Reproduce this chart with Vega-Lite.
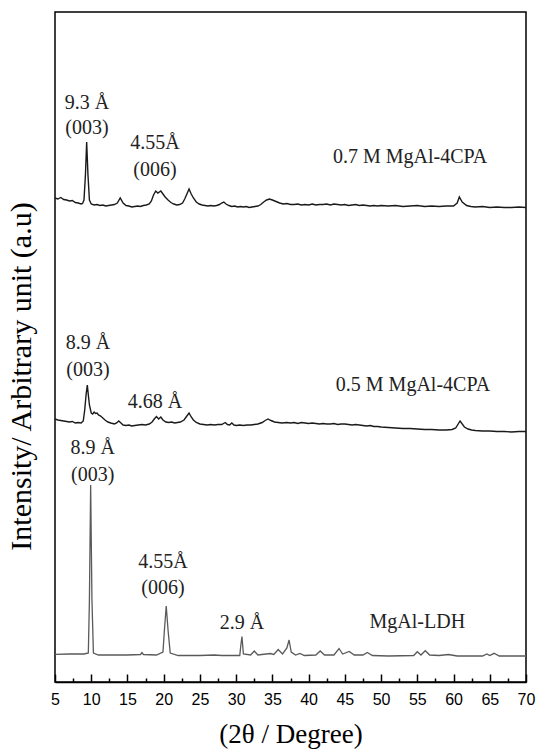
{
  "$schema": "https://vega.github.io/schema/vega-lite/v6.json",
  "width": 471,
  "height": 670,
  "autosize": {"type": "none"},
  "padding": {"left": 55, "top": 12, "right": 12, "bottom": 67},
  "background": "white",
  "config": {"view": {"stroke": "#000", "strokeWidth": 1.5}},
  "datasets": {
    "top": [
      {"theta":5.0,"intensity":484},{"theta":5.4,"intensity":483},{"theta":5.8,"intensity":484.5},{"theta":6.2,"intensity":482.5},{"theta":6.6,"intensity":482},{"theta":7.0,"intensity":481},{"theta":7.4,"intensity":481.5},{"theta":7.8,"intensity":479.5},{"theta":8.2,"intensity":479},{"theta":8.6,"intensity":478},{"theta":8.8,"intensity":478.5},{"theta":9.0,"intensity":482},{"theta":9.2,"intensity":507},{"theta":9.37,"intensity":540},{"theta":9.55,"intensity":507},{"theta":9.75,"intensity":482},{"theta":10.0,"intensity":478},{"theta":10.4,"intensity":477},{"theta":10.8,"intensity":477.5},{"theta":11.2,"intensity":476.5},{"theta":11.6,"intensity":477},{"theta":12.0,"intensity":476},{"theta":12.4,"intensity":476.5},{"theta":12.8,"intensity":477},{"theta":13.2,"intensity":477.5},{"theta":13.6,"intensity":479},{"theta":14.0,"intensity":484},{"theta":14.4,"intensity":479},{"theta":14.8,"intensity":476.5},{"theta":15.2,"intensity":476},{"theta":15.6,"intensity":475},{"theta":16.0,"intensity":475.5},{"theta":16.4,"intensity":476},{"theta":16.8,"intensity":475.5},{"theta":17.2,"intensity":476.5},{"theta":17.6,"intensity":477},{"theta":18.0,"intensity":478},{"theta":18.3,"intensity":481},{"theta":18.6,"intensity":487},{"theta":18.9,"intensity":491},{"theta":19.2,"intensity":489},{"theta":19.6,"intensity":491},{"theta":19.9,"intensity":488},{"theta":20.2,"intensity":485},{"theta":20.6,"intensity":482},{"theta":21.0,"intensity":479.5},{"theta":21.4,"intensity":478},{"theta":21.8,"intensity":477},{"theta":22.2,"intensity":477.5},{"theta":22.6,"intensity":479},{"theta":22.9,"intensity":483},{"theta":23.2,"intensity":488},{"theta":23.5,"intensity":493},{"theta":23.8,"intensity":488},{"theta":24.1,"intensity":484},{"theta":24.5,"intensity":480},{"theta":24.9,"intensity":478},{"theta":25.3,"intensity":477},{"theta":25.7,"intensity":476.5},{"theta":26.1,"intensity":476},{"theta":26.5,"intensity":476.5},{"theta":26.9,"intensity":476},{"theta":27.3,"intensity":476.5},{"theta":27.7,"intensity":477.5},{"theta":28.0,"intensity":479},{"theta":28.3,"intensity":480},{"theta":28.6,"intensity":478},{"theta":29.0,"intensity":476.5},{"theta":29.4,"intensity":475.5},{"theta":29.8,"intensity":476},{"theta":30.2,"intensity":475},{"theta":30.6,"intensity":475.5},{"theta":31.0,"intensity":475},{"theta":31.4,"intensity":475.5},{"theta":31.8,"intensity":474.5},{"theta":32.2,"intensity":475},{"theta":32.6,"intensity":475.5},{"theta":33.0,"intensity":476},{"theta":33.4,"intensity":477.5},{"theta":33.8,"intensity":480},{"theta":34.2,"intensity":482},{"theta":34.6,"intensity":483},{"theta":35.0,"intensity":482},{"theta":35.5,"intensity":480.5},{"theta":36.0,"intensity":479},{"theta":36.5,"intensity":478},{"theta":37.0,"intensity":478.5},{"theta":37.5,"intensity":477.5},{"theta":38.0,"intensity":477.5},{"theta":38.5,"intensity":478},{"theta":39.0,"intensity":477},{"theta":39.5,"intensity":477.5},{"theta":40.0,"intensity":477},{"theta":40.5,"intensity":478},{"theta":41.0,"intensity":477},{"theta":41.5,"intensity":477.5},{"theta":42.0,"intensity":477.5},{"theta":42.5,"intensity":478},{"theta":43.0,"intensity":477},{"theta":43.5,"intensity":478},{"theta":44.0,"intensity":477.5},{"theta":44.5,"intensity":477},{"theta":45.0,"intensity":477.5},{"theta":45.5,"intensity":476.5},{"theta":46.0,"intensity":477},{"theta":46.5,"intensity":477.5},{"theta":47.0,"intensity":476.5},{"theta":47.5,"intensity":477},{"theta":48.0,"intensity":476.5},{"theta":48.5,"intensity":476},{"theta":49.0,"intensity":476.5},{"theta":49.5,"intensity":476},{"theta":50.0,"intensity":476.5},{"theta":51.0,"intensity":476},{"theta":52.0,"intensity":476.5},{"theta":53.0,"intensity":475.5},{"theta":54.0,"intensity":476},{"theta":55.0,"intensity":476.5},{"theta":56.0,"intensity":475.5},{"theta":57.0,"intensity":476},{"theta":58.0,"intensity":475.5},{"theta":59.0,"intensity":476},{"theta":60.0,"intensity":476},{"theta":60.5,"intensity":479},{"theta":60.8,"intensity":485},{"theta":61.2,"intensity":480},{"theta":61.8,"intensity":476.5},{"theta":62.4,"intensity":475.5},{"theta":63.0,"intensity":475},{"theta":64.0,"intensity":475.5},{"theta":65.0,"intensity":474.5},{"theta":66.0,"intensity":475},{"theta":67.0,"intensity":474.5},{"theta":68.0,"intensity":474.5},{"theta":69.0,"intensity":475},{"theta":70.0,"intensity":474.5}
    ],
    "mid": [
      {"theta":5.0,"intensity":263},{"theta":5.4,"intensity":262},{"theta":5.8,"intensity":261.5},{"theta":6.2,"intensity":261},{"theta":6.6,"intensity":260.5},{"theta":7.0,"intensity":260},{"theta":7.4,"intensity":260.5},{"theta":7.8,"intensity":259},{"theta":8.2,"intensity":259.5},{"theta":8.6,"intensity":259},{"theta":8.9,"intensity":261},{"theta":9.1,"intensity":272},{"theta":9.3,"intensity":288},{"theta":9.46,"intensity":297},{"theta":9.6,"intensity":287},{"theta":9.75,"intensity":277},{"theta":10.0,"intensity":269},{"theta":10.2,"intensity":268},{"theta":10.4,"intensity":270},{"theta":10.6,"intensity":268.5},{"theta":10.8,"intensity":269},{"theta":11.0,"intensity":267},{"theta":11.3,"intensity":266},{"theta":11.6,"intensity":264},{"theta":11.9,"intensity":262},{"theta":12.3,"intensity":260},{"theta":12.7,"intensity":259},{"theta":13.2,"intensity":258},{"theta":13.5,"intensity":259},{"theta":13.8,"intensity":261},{"theta":14.1,"intensity":259},{"theta":14.4,"intensity":257},{"theta":14.8,"intensity":256.5},{"theta":15.2,"intensity":257},{"theta":15.6,"intensity":256},{"theta":16.0,"intensity":256.5},{"theta":16.5,"intensity":257},{"theta":17.0,"intensity":257.5},{"theta":17.5,"intensity":257},{"theta":18.0,"intensity":258},{"theta":18.4,"intensity":260},{"theta":18.7,"intensity":263},{"theta":19.0,"intensity":265.5},{"theta":19.3,"intensity":263},{"theta":19.6,"intensity":265},{"theta":19.9,"intensity":262},{"theta":20.3,"intensity":260},{"theta":20.7,"intensity":259.5},{"theta":21.1,"intensity":260},{"theta":21.5,"intensity":259},{"theta":21.9,"intensity":259.5},{"theta":22.3,"intensity":260},{"theta":22.8,"intensity":262},{"theta":23.1,"intensity":265},{"theta":23.5,"intensity":269},{"theta":23.8,"intensity":265},{"theta":24.1,"intensity":262},{"theta":24.5,"intensity":259.5},{"theta":25.0,"intensity":258},{"theta":25.5,"intensity":257.5},{"theta":26.0,"intensity":257},{"theta":26.5,"intensity":257.5},{"theta":27.0,"intensity":257},{"theta":27.5,"intensity":257.5},{"theta":28.0,"intensity":257.5},{"theta":28.5,"intensity":259.5},{"theta":28.8,"intensity":257.5},{"theta":29.1,"intensity":257},{"theta":29.4,"intensity":259},{"theta":29.7,"intensity":257},{"theta":30.0,"intensity":256.5},{"theta":30.5,"intensity":257},{"theta":31.0,"intensity":256.5},{"theta":31.5,"intensity":257},{"theta":32.0,"intensity":257},{"theta":32.5,"intensity":257.5},{"theta":33.0,"intensity":258},{"theta":33.6,"intensity":259.5},{"theta":34.0,"intensity":261.5},{"theta":34.4,"intensity":263},{"theta":34.8,"intensity":261.5},{"theta":35.3,"intensity":260},{"theta":35.8,"intensity":259.5},{"theta":36.3,"intensity":259},{"theta":37.0,"intensity":259.5},{"theta":37.5,"intensity":259},{"theta":38.0,"intensity":259.5},{"theta":38.5,"intensity":258.5},{"theta":39.0,"intensity":259.5},{"theta":39.5,"intensity":259},{"theta":40.0,"intensity":258.5},{"theta":40.5,"intensity":259},{"theta":41.0,"intensity":258.5},{"theta":41.5,"intensity":258},{"theta":42.0,"intensity":258.5},{"theta":42.5,"intensity":258},{"theta":43.0,"intensity":258},{"theta":43.5,"intensity":258.5},{"theta":44.0,"intensity":257.5},{"theta":44.5,"intensity":258},{"theta":45.0,"intensity":258},{"theta":45.5,"intensity":257.5},{"theta":46.0,"intensity":257},{"theta":46.5,"intensity":257.5},{"theta":47.0,"intensity":257},{"theta":47.5,"intensity":256.5},{"theta":48.0,"intensity":256},{"theta":48.5,"intensity":256.5},{"theta":49.0,"intensity":255.5},{"theta":49.5,"intensity":255.5},{"theta":50.0,"intensity":255},{"theta":51.0,"intensity":254.5},{"theta":52.0,"intensity":254},{"theta":53.0,"intensity":253.5},{"theta":54.0,"intensity":253.5},{"theta":55.0,"intensity":253},{"theta":56.0,"intensity":252.5},{"theta":57.0,"intensity":252.5},{"theta":58.0,"intensity":252},{"theta":59.0,"intensity":252},{"theta":59.8,"intensity":252.5},{"theta":60.3,"intensity":254},{"theta":60.9,"intensity":261},{"theta":61.5,"intensity":255},{"theta":62.0,"intensity":253},{"theta":62.5,"intensity":252},{"theta":63.0,"intensity":251.5},{"theta":64.0,"intensity":251},{"theta":65.0,"intensity":251},{"theta":66.0,"intensity":250.5},{"theta":67.0,"intensity":250.5},{"theta":68.0,"intensity":250},{"theta":69.0,"intensity":250.5},{"theta":70.0,"intensity":250.5}
    ],
    "ldh": [
      {"theta":5.0,"intensity":27.7},{"theta":7.0,"intensity":28},{"theta":9.0,"intensity":28},{"theta":9.6,"intensity":29},{"theta":9.75,"intensity":82},{"theta":9.92,"intensity":197},{"theta":10.1,"intensity":82},{"theta":10.3,"intensity":29},{"theta":11.0,"intensity":27},{"theta":13.0,"intensity":27},{"theta":15.0,"intensity":27},{"theta":16.8,"intensity":27.5},{"theta":17.0,"intensity":29.5},{"theta":17.2,"intensity":27.5},{"theta":19.0,"intensity":27},{"theta":19.9,"intensity":30},{"theta":20.1,"intensity":52},{"theta":20.35,"intensity":76},{"theta":20.6,"intensity":52},{"theta":20.9,"intensity":29},{"theta":22.0,"intensity":26.5},{"theta":25.0,"intensity":26.5},{"theta":27.0,"intensity":27},{"theta":28.0,"intensity":26.5},{"theta":30.5,"intensity":26.5},{"theta":30.65,"intensity":37},{"theta":30.8,"intensity":45.5},{"theta":31.0,"intensity":28},{"theta":32.0,"intensity":27},{"theta":32.5,"intensity":31},{"theta":33.0,"intensity":27},{"theta":34.7,"intensity":28.5},{"theta":35.2,"intensity":27.5},{"theta":35.8,"intensity":32.5},{"theta":36.4,"intensity":28},{"theta":37.0,"intensity":34},{"theta":37.3,"intensity":42},{"theta":37.6,"intensity":30},{"theta":38.2,"intensity":27},{"theta":38.8,"intensity":28.5},{"theta":39.4,"intensity":26.5},{"theta":41.0,"intensity":27},{"theta":41.6,"intensity":31},{"theta":42.2,"intensity":27},{"theta":43.5,"intensity":27},{"theta":44.2,"intensity":33.5},{"theta":44.7,"intensity":28},{"theta":45.6,"intensity":30.5},{"theta":46.3,"intensity":27},{"theta":47.5,"intensity":27},{"theta":48.1,"intensity":29.5},{"theta":48.8,"intensity":26.5},{"theta":51.0,"intensity":26},{"theta":54.5,"intensity":26.5},{"theta":55.0,"intensity":30.3},{"theta":55.5,"intensity":27},{"theta":56.1,"intensity":31.3},{"theta":56.7,"intensity":27},{"theta":58.0,"intensity":26.5},{"theta":59.3,"intensity":27.5},{"theta":60.5,"intensity":26},{"theta":64.0,"intensity":26},{"theta":64.6,"intensity":28},{"theta":65.0,"intensity":26.5},{"theta":65.6,"intensity":28.7},{"theta":66.3,"intensity":26},{"theta":68.0,"intensity":26},{"theta":70.0,"intensity":26}
    ],
    "labels": [
      {"theta": 9.42, "intensity": 579, "text": "9.3 Å"},
      {"theta": 9.42, "intensity": 554, "text": "(003)"},
      {"theta": 18.8, "intensity": 539, "text": "4.55Å"},
      {"theta": 18.8, "intensity": 512, "text": "(006)"},
      {"theta": 54.0, "intensity": 525, "text": "0.7 M MgAl-4CPA"},
      {"theta": 9.55, "intensity": 339, "text": "8.9 Å"},
      {"theta": 9.55, "intensity": 312, "text": "(003)"},
      {"theta": 18.8, "intensity": 280, "text": "4.68 Å"},
      {"theta": 54.4, "intensity": 297, "text": "0.5 M MgAl-4CPA"},
      {"theta": 10.2, "intensity": 234, "text": "8.9 Å"},
      {"theta": 10.2, "intensity": 207, "text": "(003)"},
      {"theta": 19.9, "intensity": 120, "text": "4.55Å"},
      {"theta": 19.9, "intensity": 94, "text": "(006)"},
      {"theta": 30.8, "intensity": 59, "text": "2.9 Å"},
      {"theta": 55.0, "intensity": 60, "text": "MgAl-LDH"}
    ]
  },
  "encoding": {
    "x": {
      "field": "theta",
      "type": "quantitative",
      "scale": {"domain": [5, 70], "nice": false, "zero": false},
      "axis": {
        "values": [5, 7.5, 10, 12.5, 15, 17.5, 20, 22.5, 25, 27.5, 30, 32.5, 35, 37.5, 40, 42.5, 45, 47.5, 50, 52.5, 55, 57.5, 60, 62.5, 65, 67.5, 70],
        "labelExpr": "datum.value % 5 === 0 ? datum.label : ''",
        "tickSize": {"condition": {"test": "datum.value % 5 === 0", "value": -8}, "value": -4},
        "tickColor": "#000",
        "tickWidth": 1.5,
        "domainColor": "#000",
        "domainWidth": 1.5,
        "grid": false,
        "labelFont": "Liberation Sans",
        "labelFontSize": 16,
        "labelColor": "#000",
        "labelPadding": 17,
        "labelFlush": false,
        "labelOverlap": false,
        "title": "(2θ / Degree)",
        "titleFont": "Liberation Serif",
        "titleFontSize": 27,
        "titleFontWeight": "normal",
        "titleColor": "#000",
        "titlePadding": 10
      }
    },
    "y": {
      "field": "intensity",
      "type": "quantitative",
      "scale": {"domain": [0, 670], "nice": false, "zero": false},
      "axis": {
        "labels": false,
        "ticks": false,
        "domain": false,
        "grid": false,
        "title": "Intensity/ Arbitrary unit (a.u)",
        "titleFont": "Liberation Serif",
        "titleFontSize": 30,
        "titleFontWeight": "normal",
        "titleColor": "#000",
        "titlePadding": 19,
        "titleY": 364
      }
    }
  },
  "layer": [
    {
      "data": {"name": "top"},
      "mark": {"type": "line", "strokeWidth": 1.4, "color": "#1a1a1a"},
      "encoding": {}
    },
    {
      "data": {"name": "mid"},
      "mark": {"type": "line", "strokeWidth": 1.4, "color": "#1a1a1a"},
      "encoding": {}
    },
    {
      "data": {"name": "ldh"},
      "mark": {"type": "line", "strokeWidth": 1.3, "color": "#5a5a5a"},
      "encoding": {}
    },
    {
      "data": {"name": "labels"},
      "mark": {"type": "text", "font": "Liberation Serif", "fontSize": 20, "color": "#222", "align": "center", "baseline": "middle"},
      "encoding": {"text": {"field": "text", "type": "nominal"}}
    }
  ]
}
